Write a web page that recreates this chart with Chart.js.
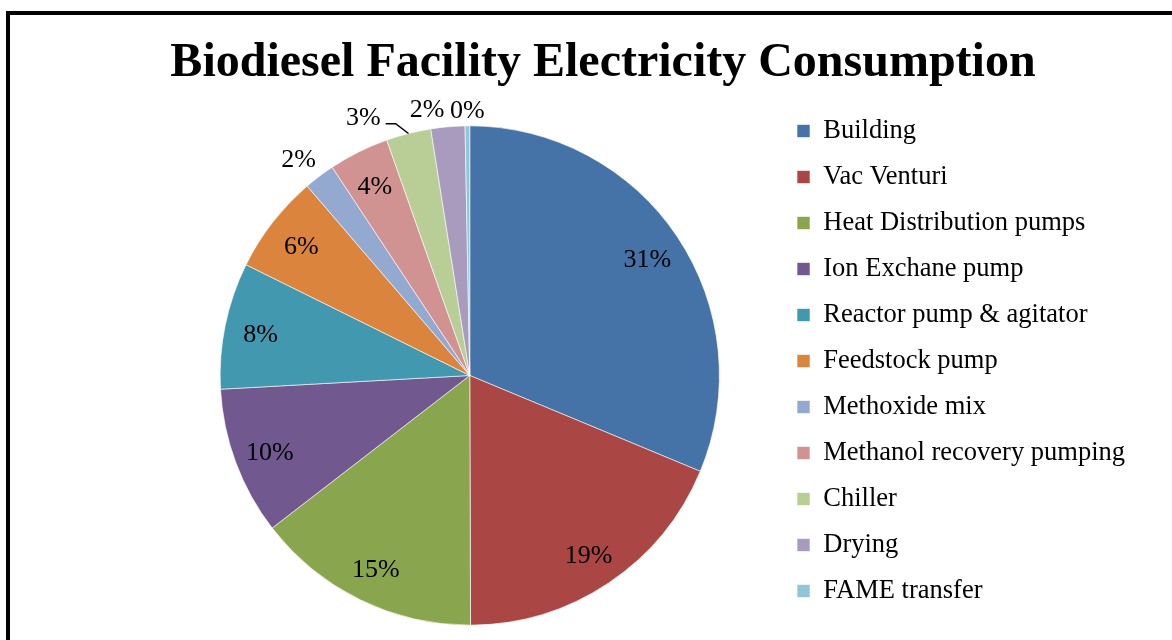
<!DOCTYPE html>
<html>
<head>
<meta charset="utf-8">
<script src="https://cdn.jsdelivr.net/npm/chart.js@4/dist/chart.umd.min.js"></script>
<style>
	html, body { margin: 0; padding: 0; background: #fff; overflow: hidden; }
	.container-canvas { position: relative; width: 1172px; height: 680px; }
</style>
</head>
<body>
<div class="container-canvas">
	<canvas id="myChart" width="1172" height="680"></canvas>
</div>
<script>
const chartTitle = 'Biodiesel Facility Electricity Consumption';
const categories = [
	'Building',
	'Vac Venturi',
	'Heat Distribution pumps',
	'Ion Exchane pump',
	'Reactor pump & agitator',
	'Feedstock pump',
	'Methoxide mix',
	'Methanol recovery pumping',
	'Chiller',
	'Drying',
	'FAME transfer'
];
const shares = [31.3, 18.7, 14.6, 9.6, 8.2, 6.4, 2.0, 3.9, 2.9, 2.2, 0.3];
const sliceColors = [
	'#4572A7', '#AA4643', '#89A54E', '#71588F', '#4198AF', '#DB843D',
	'#93A9CF', '#D19392', '#B9CD96', '#A99BBD', '#92C5D8'
];

// where each percentage label sits: inside the slice or outside (gap px, turn deg)
const labelPlacement = [
	{ out: false }, { out: false }, { out: false }, { out: false }, { out: false }, { out: false },
	{ out: true, gap: 28, turn: -1 },
	{ out: false },
	{ out: true, gap: 32, turn: -8, leader: true },
	{ out: true, gap: 22, turn: -4 },
	{ out: true, gap: 18, turn: 0 }
];

const serif = '"Liberation Serif", "Times New Roman", serif';

const frameAndTitle = {
	id: 'frameAndTitle',
	beforeDraw(chart) {
		const ctx = chart.ctx;
		ctx.save();
		ctx.fillStyle = '#fff';
		ctx.fillRect(0, 0, chart.width, chart.height);
		ctx.strokeStyle = '#000';
		ctx.lineWidth = 4;
		ctx.strokeRect(8, 13, chart.width + 50, chart.height + 50);
		ctx.restore();
	},
	afterDraw(chart) {
		const ctx = chart.ctx;
		ctx.save();
		ctx.font = 'bold 48px ' + serif;
		ctx.fillStyle = '#000';
		ctx.textAlign = 'center';
		ctx.textBaseline = 'alphabetic';
		ctx.fillText(chartTitle, 603, 76);
		ctx.restore();
	}
};

const pctLabels = {
	id: 'pctLabels',
	afterDatasetsDraw(chart) {
		const ctx = chart.ctx;
		const meta = chart.getDatasetMeta(0);
		const total = shares.reduce((a, b) => a + b, 0);
		ctx.save();
		ctx.font = '26px ' + serif;
		ctx.fillStyle = '#000';
		ctx.strokeStyle = '#000';
		ctx.lineWidth = 1.5;
		ctx.textAlign = 'center';
		ctx.textBaseline = 'middle';
		meta.data.forEach((arc, i) => {
			const { x, y, startAngle, endAngle, outerRadius } =
				arc.getProps(['x', 'y', 'startAngle', 'endAngle', 'outerRadius'], true);
			const p = labelPlacement[i];
			const mid = (startAngle + endAngle) / 2;
			const a = mid + (p.turn || 0) * Math.PI / 180;
			const r = p.out ? outerRadius + p.gap : outerRadius * 0.855;
			const lx = x + Math.cos(a) * r;
			const ly = y + Math.sin(a) * r + 3;
			const text = Math.round(shares[i] / total * 100) + '%';
			if (p.leader) {
				const w = ctx.measureText(text).width;
				const ex = x + Math.cos(mid) * outerRadius;
				const ey = y + Math.sin(mid) * outerRadius;
				ctx.beginPath();
				ctx.moveTo(ex, ey);
				ctx.lineTo(lx + w / 2 + 15, ly + 6);
				ctx.lineTo(lx + w / 2 + 5, ly + 6);
				ctx.stroke();
			}
			ctx.fillText(text, lx, ly);
		});
		ctx.restore();
	}
};

const ctx = document.getElementById('myChart');
const myChart = new Chart(ctx, {
	type: 'pie',
	data: {
		labels: [...categories],
		datasets: [{
			data: [...shares],
			backgroundColor: [...sliceColors],
			borderColor: 'rgba(255, 255, 255, 0.6)',
			borderWidth: 1,
			radius: '90.2%'
		}]
	},
	options: {
		responsive: false,
		animation: false,
		layout: {
			padding: { left: 162, right: 37, top: 98.25, bottom: 27.25 }
		},
		plugins: {
			title: { display: false },
			tooltip: { enabled: false },
			legend: {
				position: 'right',
				align: 'start',
				labels: {
					boxWidth: 13,
					boxHeight: 13,
					padding: 19.5,
					color: '#000',
					font: { family: serif, size: 26.5 }
				}
			}
		}
	},
	plugins: [frameAndTitle, pctLabels]
});
</script>
</body>
</html>
